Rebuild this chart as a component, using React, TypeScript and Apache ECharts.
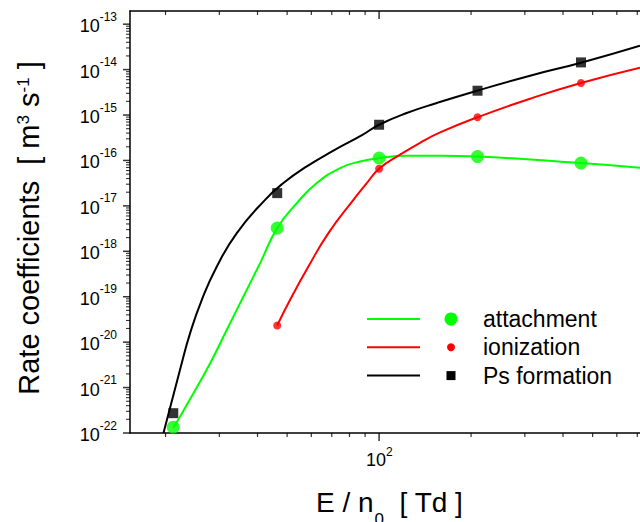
import React, { useEffect, useRef } from 'react';
import * as echarts from 'echarts';

const FONT = '"Liberation Sans", Arial, Helvetica, sans-serif';

// ---- measured data points (symbols) ----
const attachmentE = [21.2, 46.4, 100, 210, 458];
const attachmentK = [1.34e-22, 3.24e-18, 1.13e-16, 1.22e-16, 8.77e-17];
const ionizationE = [46.4, 100, 210, 458];
const ionizationK = [2.32e-20, 6.56e-17, 8.95e-16, 5.07e-15];
const psE = [21.2, 46.4, 100, 210, 458];
const psK = [2.73e-22, 1.91e-17, 6.11e-16, 3.43e-15, 1.44e-14];

// ---- fitted curves ----
const attachCurveE = [21.23, 24.68, 27.99, 31.74, 35.97, 40.79, 46.4, 53.79, 62.54, 74.55, 86.69, 100, 123.2, 158.4, 210, 458.1, 714.5];
const attachCurveK = [1.3e-22, 7.53e-22, 3.44e-21, 1.87e-20, 1.01e-19, 5.5e-19, 3.24e-18, 1.15e-17, 3.18e-17, 6.81e-17, 9.51e-17, 1.13e-16, 1.27e-16, 1.27e-16, 1.22e-16, 8.77e-17, 6.9e-17];
const ionCurveE = [46.4, 51.14, 58.7, 68.26, 82.4, 91.16, 100, 117.2, 136.2, 158.4, 210, 312, 458.1, 714.5];
const ionCurveK = [2.32e-20, 8.55e-20, 4.62e-19, 2.52e-18, 1.36e-17, 3.18e-17, 6.56e-17, 1.34e-16, 2.45e-16, 4.14e-16, 8.95e-16, 2.29e-15, 5.07e-15, 1.1e-14];
const psCurveE = [19.69, 22.45, 24.07, 26.29, 29.44, 34.22, 42.36, 48.62, 57.99, 70.87, 87.9, 100, 123.2, 154.5, 209.3, 312, 458.1, 714.5];
const psCurveK = [1.0e-22, 2.9e-21, 1.58e-20, 8.55e-20, 4.62e-19, 2.52e-18, 1.36e-17, 3.18e-17, 7.38e-17, 1.64e-16, 3.6e-16, 6.11e-16, 1.11e-15, 1.84e-15, 3.43e-15, 7.34e-15, 1.42e-14, 3.36e-14];

// ---- axes ----
const xMin = 15.3;
const xMax = 1000;
const yMin = 1e-22;
const yMax = 1.95e-13;
const xDecadeExps = [1, 2, 3];
const yDecadeExps = [-22, -21, -20, -19, -18, -17, -16, -15, -14, -13];
const xLabelExps = [2];
const minorMultipliers = [2, 3, 4, 5, 6, 7, 8, 9];

const legendItems = [
  { name: 'attachment', color: '#00ff00', symbol: 'circle', size: 13 },
  { name: 'ionization', color: '#ff0000', symbol: 'circle', size: 8 },
  { name: 'Ps formation', color: '#000000', symbol: 'rect', size: 9 },
];

const zip = (a: number[], b: number[]) => a.map((v, i) => [v, b[i]]);

const measure = (text: string, size: number) => {
  const c = document.createElement('canvas').getContext('2d');
  if (!c) return text.length * size * 0.55;
  c.font = `${size}px "Liberation Sans", Arial, sans-serif`;
  return c.measureText(text).width;
};

const majors = (exps: number[], lo: number, hi: number) =>
  exps.map((e) => Math.pow(10, e)).filter((v) => v >= lo * 0.999999 && v <= hi * 1.000001);
const minors = (exps: number[], lo: number, hi: number) => {
  const out: number[] = [];
  exps.forEach((e) => {
    minorMultipliers.forEach((m) => {
      const v = m * Math.pow(10, e);
      if (v > lo && v < hi) out.push(v);
    });
  });
  return out;
};

const tickSeries = (name: string, data: number[][], size: number[], offset: number[]) => ({
  type: 'scatter',
  name,
  data,
  symbol: 'rect',
  symbolSize: size,
  symbolOffset: offset,
  itemStyle: { color: '#000', borderWidth: 0 },
  clip: false,
  silent: true,
  z: 6,
});

export default function App() {
  const ref = useRef<HTMLDivElement>(null);

  useEffect(() => {
    if (!ref.current) return;
    const chart = echarts.init(ref.current, null, { renderer: 'svg' });

    const axisLineStyle = { color: '#000', width: 1.5 };

    const graphics: any[] = [];
    legendItems.forEach((it, i) => {
      const y = 319 + i * 28.3;
      graphics.push({
        type: 'line',
        shape: { x1: 367, y1: y, x2: 420, y2: y },
        style: { stroke: it.color, lineWidth: 2 },
      });
      if (it.symbol === 'circle') {
        graphics.push({
          type: 'circle',
          shape: { cx: 451, cy: y, r: it.size / 2 },
          style: { fill: it.color },
        });
      } else {
        graphics.push({
          type: 'rect',
          shape: { x: 451 - it.size / 2, y: y - it.size / 2, width: it.size, height: it.size },
          style: { fill: it.color },
        });
      }
      graphics.push({
        type: 'text',
        x: 483,
        y: y,
        style: {
          text: it.name,
          fontFamily: FONT,
          fontSize: 23,
          fill: '#000',
          align: 'left',
          verticalAlign: 'middle',
        },
      });
    });

    // y axis title
    graphics.push({
      type: 'text',
      x: 29,
      y: 228,
      rotation: Math.PI / 2,
      style: {
        text: 'Rate coefficients  [ m{sup|3} s{sup|-1} ]',
        fontFamily: FONT,
        fontSize: 29,
        fill: '#000',
        align: 'center',
        verticalAlign: 'middle',
        rich: {
          sup: { fontFamily: FONT, fontSize: 17, fill: '#000', verticalAlign: 'top' },
        },
      },
    });

    // x axis title: "E / n" + subscript "0" + "  [ Td ]"
    const part1 = 'E / n';
    const part3 = '  [ Td ]';
    const w1 = measure(part1, 28);
    const w2 = measure('0', 17);
    const xStart = 316;
    const mainY = 502;
    graphics.push({
      type: 'text', x: xStart, y: mainY,
      style: { text: part1, fontFamily: FONT, fontSize: 28, fill: '#000', align: 'left', verticalAlign: 'middle' },
    });
    graphics.push({
      type: 'text', x: xStart + w1 + 1, y: 519.5,
      style: { text: '0', fontFamily: FONT, fontSize: 17, fill: '#000', align: 'left', verticalAlign: 'middle' },
    });
    graphics.push({
      type: 'text', x: xStart + w1 + w2 + 1, y: mainY,
      style: { text: part3, fontFamily: FONT, fontSize: 28, fill: '#000', align: 'left', verticalAlign: 'middle' },
    });

    const yMajorData = majors(yDecadeExps, yMin, yMax).map((v) => [xMin, v]);
    const yMinorData = minors(yDecadeExps, yMin, yMax).map((v) => [xMin, v]);
    const xMajorVals = majors(xDecadeExps, xMin, xMax);
    const xMinorVals = minors(xDecadeExps, xMin, xMax);
    const xMajorData = [...xMajorVals.map((v) => [v, yMin]), ...xMajorVals.map((v) => [v, yMax])];
    const xMinorData = [...xMinorVals.map((v) => [v, yMin]), ...xMinorVals.map((v) => [v, yMax])];
    const yLabelData = yDecadeExps.map((e) => [xMin, Math.pow(10, e)]);
    const xLabelData = xLabelExps.map((e) => [Math.pow(10, e), yMin]);

    const logAxisBase = {
      type: 'log',
      logBase: 10,
      axisTick: { show: false },
      minorTick: { show: false },
      axisLabel: { show: false },
      splitLine: { show: false },
      minorSplitLine: { show: false },
    };

    const option: any = {
      animation: false,
      grid: { left: 130, top: 11, width: 554.6, height: 422, containLabel: false, outerBoundsMode: 'none' },
      xAxis: [
        {
          ...logAxisBase, min: xMin, max: xMax, position: 'bottom',
          axisLine: { show: true, onZero: false, lineStyle: axisLineStyle },
        },
        {
          ...logAxisBase, min: xMin, max: xMax, position: 'top',
          axisLine: { show: true, onZero: false, lineStyle: axisLineStyle },
        },
      ],
      yAxis: [
        {
          ...logAxisBase, min: yMin, max: yMax, position: 'left',
          axisLine: { show: true, onZero: false, lineStyle: axisLineStyle },
        },
      ],
      series: [
        {
          type: 'line', name: 'attachment fit', data: zip(attachCurveE, attachCurveK),
          smooth: 0.5, showSymbol: false, symbol: 'none',
          lineStyle: { color: '#00ff00', width: 2 }, silent: true,
        },
        {
          type: 'line', name: 'ionization fit', data: zip(ionCurveE, ionCurveK),
          smooth: 0.5, showSymbol: false, symbol: 'none',
          lineStyle: { color: '#ff0000', width: 2 }, silent: true,
        },
        {
          type: 'line', name: 'Ps formation fit', data: zip(psCurveE, psCurveK),
          smooth: 0.5, showSymbol: false, symbol: 'none',
          lineStyle: { color: '#000000', width: 2 }, silent: true,
        },
        {
          type: 'scatter', name: 'attachment', data: zip(attachmentE, attachmentK),
          symbol: 'circle', symbolSize: 13, itemStyle: { color: '#00ff00' }, silent: true,
        },
        {
          type: 'scatter', name: 'ionization', data: zip(ionizationE, ionizationK),
          symbol: 'circle', symbolSize: 8, itemStyle: { color: '#ff0000' }, silent: true,
        },
        {
          type: 'scatter', name: 'Ps formation', data: zip(psE, psK),
          symbol: 'rect', symbolSize: 10, itemStyle: { color: '#000000' }, silent: true,
        },
        // axis ticks drawn as thin rect symbols placed by the log axes
        tickSeries('yMajorTicks', yMajorData, [7, 1.5], [-3.5, 0]),
        tickSeries('yMinorTicks', yMinorData, [4, 1.1], [-2, 0]),
        tickSeries('xMajorTicks', xMajorData, [1.5, 8], [0, 4]),
        tickSeries('xMinorTicks', xMinorData, [1.2, 4], [0, 2]),
        // y-axis labels 10^n
        {
          type: 'custom', name: 'yLabels', data: yLabelData, clip: false, silent: true, z: 5,
          renderItem: (params: any, api: any) => {
            const v = api.value(1);
            const p = api.coord([xMin, v]);
            const e = String(Math.round(Math.log10(v)));
            const wExp = measure(e, 12);
            const xr = p[0] - 13 - wExp;
            return {
              type: 'group',
              children: [
                { type: 'text', x: xr, y: p[1] + 2, style: { text: '10', fontFamily: FONT, fontSize: 18, fill: '#000', align: 'right', verticalAlign: 'middle' } },
                { type: 'text', x: xr, y: p[1] - 7.5, style: { text: e, fontFamily: FONT, fontSize: 12, fill: '#000', align: 'left', verticalAlign: 'middle' } },
              ],
            };
          },
        },
        // x-axis labels 10^n
        {
          type: 'custom', name: 'xLabels', data: xLabelData, clip: false, silent: true, z: 5,
          renderItem: (params: any, api: any) => {
            const v = api.value(0);
            const p = api.coord([v, yMin]);
            const e = String(Math.round(Math.log10(v)));
            return {
              type: 'group',
              children: [
                { type: 'text', x: p[0] + 7, y: p[1] + 27, style: { text: '10', fontFamily: FONT, fontSize: 18, fill: '#000', align: 'right', verticalAlign: 'middle' } },
                { type: 'text', x: p[0] + 7, y: p[1] + 19, style: { text: e, fontFamily: FONT, fontSize: 12, fill: '#000', align: 'left', verticalAlign: 'middle' } },
              ],
            };
          },
        },
      ],
      graphic: graphics,
    };

    chart.setOption(option);
    return () => chart.dispose();
  }, []);

  return (
    <div
      ref={ref}
      style={{ position: 'absolute', left: 0, top: 0, width: 640, height: 522, background: '#fff' }}
    />
  );
}
